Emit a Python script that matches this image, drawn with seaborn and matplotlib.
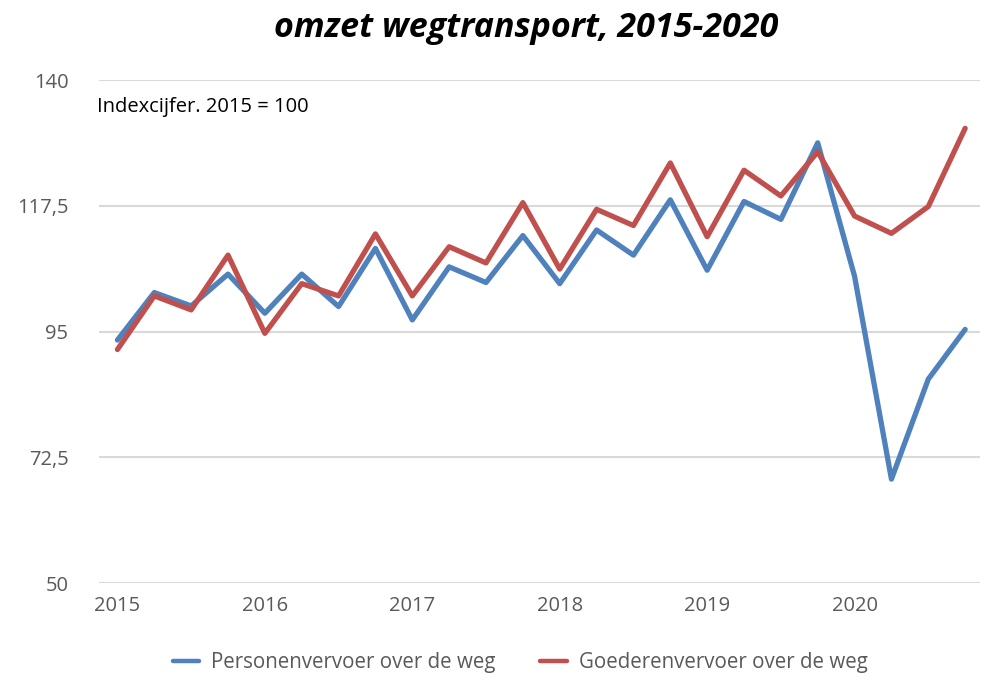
import numpy as np
import pandas as pd
import matplotlib
matplotlib.use("Agg")
import matplotlib.pyplot as plt
import seaborn as sns

# =========================
# DATA (quarterly index, 2015 = 100)
# =========================

quarters = [f"{y}K{q}" for y in range(2015, 2021) for q in range(1, 5)]
year_labels = ["2015", "2016", "2017", "2018", "2019", "2020"]

personen = [93.5, 102.0, 99.6, 105.3,
            98.3, 105.3, 99.5, 109.9,
            97.1, 106.6, 103.8, 112.2,
            103.6, 113.2, 108.7, 118.6,
            106.0, 118.3, 115.1, 128.8,
            104.9, 68.6, 86.5, 95.4]

goederen = [91.8, 101.4, 98.9, 108.7,
            94.7, 103.6, 101.4, 112.5,
            101.4, 110.2, 107.3, 118.1,
            106.2, 116.9, 114.0, 125.2,
            112.0, 123.9, 119.3, 127.2,
            115.7, 112.6, 117.4, 131.4]

y_ticks = [50, 72.5, 95, 117.5, 140]
y_tick_labels = ["50", "72,5", "95", "117,5", "140"]

series_names = ["Personenvervoer over de weg", "Goederenvervoer over de weg"]
colors = ["#4F81BD", "#C0504D"]

# =========================
# PLOT
# =========================

sns.set_style("white")
plt.rcParams["font.family"] = ["Open Sans", "DejaVu Sans"]

df = pd.DataFrame({
    "idx": list(range(len(quarters))) * 2,
    "waarde": personen + goederen,
    "reeks": [series_names[0]] * len(quarters) + [series_names[1]] * len(quarters),
})

fig = plt.figure(figsize=(9.92, 6.73), dpi=100)
ax = fig.add_axes([0.0998, 0.1337, 0.888, 0.747])

sns.lineplot(data=df, x="idx", y="waarde", hue="reeks", palette=colors,
             linewidth=3.8, ax=ax, legend=True)

ax.set_ylim(50, 140)
ax.set_xlim(-0.5, 23.4)
ax.set_yticks(y_ticks)
ax.set_yticklabels(y_tick_labels)
ax.set_xticks(list(range(0, len(quarters), 4)))
ax.set_xticklabels(year_labels)
ax.set_xlabel("")
ax.set_ylabel("")

ax.grid(axis="y", color="#D9D9D9", linewidth=1.5)
ax.set_axisbelow(True)
for s in ax.spines.values():
    s.set_visible(False)

ax.tick_params(axis="y", length=0, pad=22, labelsize=14.5, labelcolor="#595959")
ax.tick_params(axis="x", length=0, pad=9, labelsize=14.5, labelcolor="#595959")

ax.text(-0.55, 135.3, "Indexcijfer. 2015 = 100", fontsize=14.5, color="black",
        va="center", ha="left")

fig.text(0.53, 0.959, "omzet wegtransport, 2015-2020", ha="center", va="center",
         fontsize=24.5, fontweight="bold", fontstyle="italic", color="black")

leg = ax.legend(loc="center", bbox_to_anchor=(0.478, -0.158), ncol=2, frameon=False,
                fontsize=14.8, labelcolor="#595959", handlelength=1.3,
                handletextpad=0.55, columnspacing=2.2)
for line in leg.get_lines():
    line.set_linewidth(3.2)

fig.savefig("out.png", dpi=100)
